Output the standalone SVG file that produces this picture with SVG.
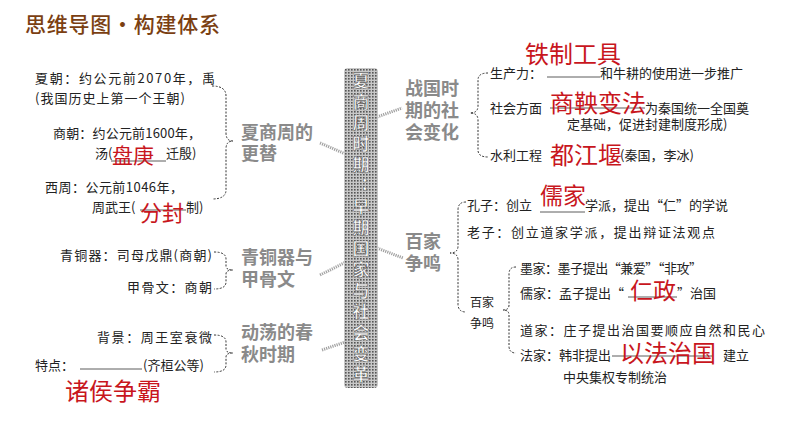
<svg xmlns="http://www.w3.org/2000/svg" width="794" height="447" viewBox="0 0 794 447">
<defs>
<pattern id="dots" width="3" height="3" patternUnits="userSpaceOnUse">
<rect width="3" height="3" fill="#c8c8c8"/>
<rect width="1.6" height="1.6" fill="#555"/>
</pattern>
</defs>
<style>
.t{font-family:"Noto Sans CJK SC","Noto Sans",sans-serif;font-size:13px;fill:#222}
.r{font-family:"Noto Sans CJK SC","Noto Sans",sans-serif;font-size:23px;fill:#c8161d}
.g{font-family:"Noto Sans CJK SC","Noto Sans",sans-serif;font-size:18px;fill:#8a8a8a;font-weight:bold}
.b{font-family:"Noto Sans CJK SC","Noto Sans",sans-serif;font-size:17px;fill:#fff;font-weight:bold;stroke:#666;stroke-width:0.6;writing-mode:vertical-rl;letter-spacing:4px}
.br{fill:none;stroke:#333;stroke-width:1;stroke-dasharray:2,1.5}
.ul{stroke:#333;stroke-width:0.8}
.cn{stroke:#a0a0a0;stroke-width:3;stroke-dasharray:1.2,1}
</style>
<rect width="794" height="447" fill="#fff"/>
<text id="title" x="25" y="32" textLength="195" style="font-family:'Noto Sans CJK SC',sans-serif;font-size:21px;fill:#7b3f12;font-weight:500">思维导图·构建体系</text>

<g id="connectors">
<line class="cn" x1="320" y1="143" x2="348" y2="155"/>
<line class="cn" x1="377" y1="117" x2="402" y2="108"/>
<line class="cn" x1="320" y1="275" x2="348" y2="261"/>
<line class="cn" x1="322" y1="350" x2="348" y2="341"/>
<line class="cn" x1="377" y1="248" x2="403" y2="258"/>
</g>

<g id="center">
<rect x="344" y="68" width="34" height="320" rx="4" fill="url(#dots)"/>
<text class="b" x="361" y="72">夏商周时期：早期国家与社会变革</text>
</g>

<g id="xsz">
<text class="g"><tspan x="241" y="139">夏商周的</tspan><tspan x="241" y="160">更替</tspan></text>
<path class="br" d="M212,86 Q226,86 226,96 L226,133 Q226,141 233,141 Q226,141 226,149 L226,190 Q226,199 212,199"/>
<text class="t" x="35" y="83" textLength="180">夏朝：约公元前2070年，禹</text>
<text class="t" x="35" y="103" textLength="150">(我国历史上第一个王朝)</text>
<text class="t" x="53" y="138" textLength="148">商朝：约公元前1600年，</text>
<line class="ul" x1="111" y1="161" x2="166" y2="161"/>
<text class="t" x="95" y="158">汤(<tspan class="r" x="112" y="163" style="font-size:21px">盘庚</tspan><tspan x="166" y="158">迁殷)</tspan></text>
<text class="t" x="45" y="192" textLength="138">西周：公元前1046年，</text>
<line class="ul" x1="140" y1="210" x2="186" y2="210"/>
<text class="t" x="92" y="212">周武王(<tspan class="r" x="140" y="221" style="font-size:22px">分封</tspan><tspan x="186" y="212">制)</tspan></text>
</g>

<g id="qtq">
<text class="g"><tspan x="241" y="264">青铜器与</tspan><tspan x="241" y="286">甲骨文</tspan></text>
<path class="br" d="M214,252 Q226,252 226,259 L226,266 Q226,270 233,270 Q226,270 226,274 L226,282 Q226,289 214,289"/>
<text class="t" x="60" y="260" textLength="152">青铜器：司母戊鼎(商朝)</text>
<text class="t" x="127" y="292" textLength="85">甲骨文：商朝</text>
</g>

<g id="cq">
<text class="g"><tspan x="241" y="339">动荡的春</tspan><tspan x="241" y="361">秋时期</tspan></text>
<path class="br" d="M214,335 Q226,335 226,342 L226,349 Q226,353 233,353 Q226,353 226,357 L226,365 Q226,372 214,372"/>
<text class="t" x="97" y="342" textLength="115">背景：周王室衰微</text>
<line class="ul" x1="80" y1="369" x2="142" y2="369"/>
<text class="t" x="35" y="370">特点：<tspan x="143" y="370">(齐桓公等)</tspan></text>
<text class="r" x="65" y="400" style="font-size:24px">诸侯争霸</text>
</g>

<g id="zg">
<text class="g"><tspan x="405" y="95">战国时</tspan><tspan x="405" y="117">期的社</tspan><tspan x="405" y="139">会变化</tspan></text>
<path class="br" d="M488,73 Q478,73 478,80 L478,106 Q478,113 470,113 Q478,113 478,120 L478,150 Q478,157 488,157"/>
<text class="r" x="525" y="63" style="font-size:24px">铁制工具</text>
<line class="ul" x1="547" y1="77" x2="600" y2="77"/>
<text class="t" x="490" y="78">生产力：<tspan x="600" y="78">和牛耕的使用进一步推广</tspan></text>
<line class="ul" x1="550" y1="108" x2="645" y2="108"/>
<text class="t" x="490" y="113">社会方面<tspan class="r" x="550" y="112" style="font-size:24px">商鞅变法</tspan><tspan x="645" y="113">为秦国统一全国奠</tspan><tspan x="567" y="129">定基础，促进封建制度形成)</tspan></text>
<text class="t" x="490" y="160">水利工程<tspan class="r" x="550" y="164" style="font-size:24px">都江堰</tspan><tspan x="620" y="160">(秦国，李冰)</tspan></text>
</g>

<g id="bj">
<text class="g"><tspan x="405" y="248">百家</tspan><tspan x="405" y="270">争鸣</tspan></text>
<path class="br" d="M466,202 Q458,202 458,210 L458,246 Q458,253 450,253 Q458,253 458,260 L458,304 Q458,312 466,312"/>
<line class="ul" x1="540" y1="212" x2="585" y2="212"/>
<text class="t" x="467" y="210">孔子：创立<tspan class="r" x="540" y="204">儒家</tspan><tspan x="585" y="210">学派，提出“仁”的学说</tspan></text>
<text class="t" x="467" y="237" textLength="248">老子：创立道家学派，提出辩证法观点</text>
<text class="t" style="font-size:12px"><tspan x="470" y="307">百家</tspan><tspan x="470" y="328">争鸣</tspan></text>
<path class="br" d="M516,267 Q509,267 509,274 L509,305 Q509,310 503,310 Q509,310 509,315 L509,346 Q509,353 516,353"/>
<text class="t" x="520" y="273" textLength="182">墨家：墨子提出“兼爱”“非攻”</text>
<line class="ul" x1="628" y1="297" x2="677" y2="297"/>
<text class="t" x="520" y="298">儒家：孟子提出“<tspan class="r" x="630" y="299">仁政</tspan><tspan x="677" y="298">”治国</tspan></text>
<text class="t" x="520" y="335" textLength="245">道家：庄子提出治国要顺应自然和民心</text>
<line class="ul" x1="612" y1="356" x2="712" y2="356"/>
<text class="t" x="520" y="360">法家：韩非提出<tspan class="r" x="620" y="362" style="font-size:24px">以法治国</tspan><tspan x="723" y="360">建立</tspan><tspan x="563" y="382">中央集权专制统治</tspan></text>
</g>
</svg>
